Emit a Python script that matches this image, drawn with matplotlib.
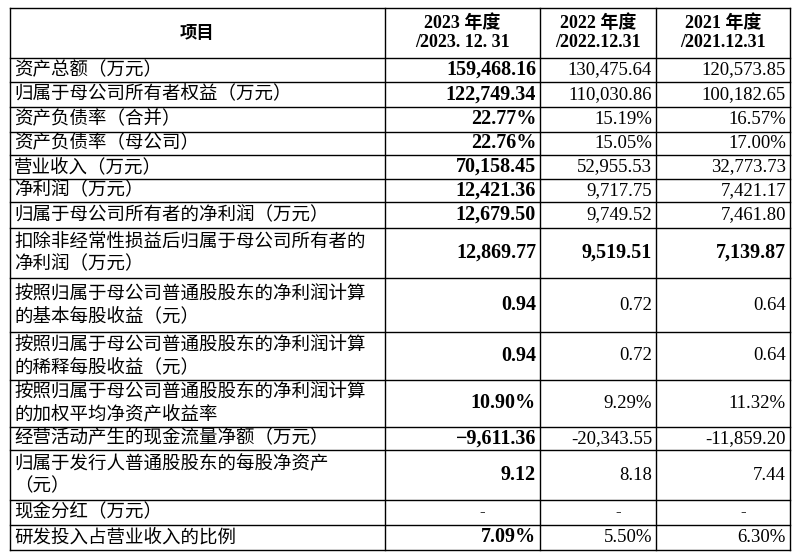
import matplotlib.pyplot as plt

# table data
headers = ["项目", "2023 年度\n/2023. 12. 31", "2022 年度\n/2022.12.31", "2021 年度\n/2021.12.31"]
items = [
    "资产总额（万元）",
    "归属于母公司所有者权益（万元）",
    "资产负债率（合并）",
    "资产负债率（母公司）",
    "营业收入（万元）",
    "净利润（万元）",
    "归属于母公司所有者的净利润（万元）",
    "扣除非经常性损益后归属于母公司所有者的\n净利润（万元）",
    "按照归属于母公司普通股股东的净利润计算\n的基本每股收益（元）",
    "按照归属于母公司普通股股东的净利润计算\n的稀释每股收益（元）",
    "按照归属于母公司普通股股东的净利润计算\n的加权平均净资产收益率",
    "经营活动产生的现金流量净额（万元）",
    "归属于发行人普通股股东的每股净资产\n（元）",
    "现金分红（万元）",
    "研发投入占营业收入的比例",
]
v2023 = ["159,468.16", "122,749.34", "22.77%", "22.76%", "70,158.45", "12,421.36",
         "12,679.50", "12,869.77", "0.94", "0.94", "10.90%", "−9,611.36", "9.12", "-", "7.09%"]
v2022 = ["130,475.64", "110,030.86", "15.19%", "15.05%", "52,955.53", "9,717.75",
         "9,749.52", "9,519.51", "0.72", "0.72", "9.29%", "-20,343.55", "8.18", "-", "5.50%"]
v2021 = ["120,573.85", "100,182.65", "16.57%", "17.00%", "32,773.73", "7,421.17",
         "7,461.80", "7,139.87", "0.64", "0.64", "11.32%", "-11,859.20", "7.44", "-", "6.30%"]
bold_all_rows = [7]

# layout in pixels
col_x = [10, 385, 540, 656, 790]
row_y = [8, 58, 82, 107, 132, 155, 179, 202, 228, 278, 332, 380, 427, 450, 500, 525, 550]

cjk = "Noto Sans CJK SC"
num = "Liberation Serif"

fig = plt.figure(figsize=(8, 5.58), dpi=100)
ax = fig.add_axes([0, 0, 1, 1])
ax.set_xlim(0, 800)
ax.set_ylim(558, 0)
ax.axis("off")

for x in col_x:
    ax.plot([x, x], [row_y[0], row_y[-1]], color="black", lw=1)
for y in row_y:
    ax.plot([col_x[0], col_x[-1]], [y, y], color="black", lw=1)

# header
hy = (row_y[0] + row_y[1]) / 2
ax.text((col_x[0] + col_x[1]) / 2, hy, headers[0], ha="center", va="center",
        fontsize=12.5, fontweight="bold", family=cjk)
for j in range(1, 4):
    ax.text((col_x[j] + col_x[j + 1]) / 2, hy, headers[j], ha="center", va="center",
            fontsize=13, fontweight="bold", family=[num, cjk], linespacing=1.15)

for i, name in enumerate(items):
    yc = (row_y[i + 1] + row_y[i + 2]) / 2
    ax.text(col_x[0] + 4, yc, name, ha="left", va="center", fontsize=13.3,
            family=cjk, linespacing=1.25)
    vals = [v2023[i], v2022[i], v2021[i]]
    for j, v in enumerate(vals):
        bold = j == 0 or i in bold_all_rows
        if v == "-":
            ax.text((col_x[j + 1] + col_x[j + 2]) / 2 + 20, yc, v, ha="center", va="center",
                    fontsize=12, family=num)
        else:
            ax.text(col_x[j + 2] - 4, yc, v, ha="right", va="center",
                    fontsize=14.5 if bold else 13.5,
                    family=num, fontweight="bold" if bold else "normal")

fig.savefig("out.png", dpi=100, facecolor="white")
